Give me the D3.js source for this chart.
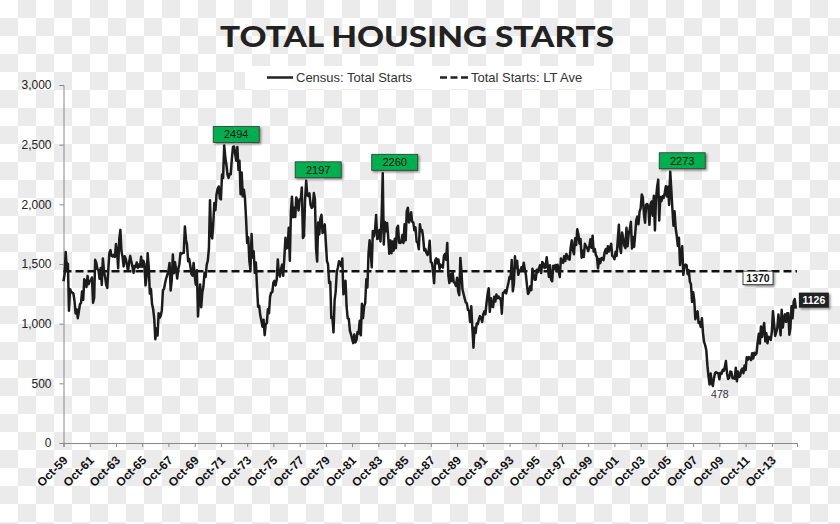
<!DOCTYPE html>
<html><head><meta charset="utf-8">
<script src="https://cdn.jsdelivr.net/npm/d3@7"></script>
<style>html,body{margin:0;padding:0;background:#fff}svg{display:block}</style>
</head><body>
<svg id="chart" width="840" height="524"></svg>
<script>
// ---------------- DATA ----------------
const chartTitle = "TOTAL HOUSING STARTS";
const seriesNames = ["Census: Total Starts", "Total Starts: LT Ave"];
// Monthly total housing starts (thousands, SAAR), Oct-1959 .. Aug-2015
const firstYear = 1959, firstMonth = 9; // October (0-based)
const starts = [
  1355,1416,1601,
  1460,1503,1109,1289,1266,1260,1255,1194,1086,1119,1046,1099,
  1163,1176,1270,1199,1372,1360,1307,1399,1331,1357,1361,1387,
  1175,1216,1535,1510,1459,1447,1376,1467,1324,1547,1442,1394,
  1325,1300,1451,1593,1616,1569,1562,1577,1560,1667,1601,1465,
  1710,1786,1608,1560,1480,1564,1543,1492,1443,1514,1568,1520,
  1480,1427,1483,1476,1512,1468,1496,1477,1560,1476,1528,1501,
  1321,1400,1591,1476,1252,1291,1164,1123,1040,869,960,900,
  1087,1049,1066,1113,1280,1294,1341,1382,1410,1441,1508,1278,
  1362,1580,1423,1515,1453,1378,1459,1498,1592,1587,1591,1593,
  1815,1702,1663,1524,1542,1484,1418,1403,1509,1398,1327,1447,
  1060,1224,1329,1138,1260,1311,1426,1391,1494,1528,1628,2035,
  1741,1715,1836,2011,1951,2083,2130,2150,2050,2042,2249,2221,
  2494,2390,2334,2249,2221,2254,2252,2382,2481,2485,2421,2366,
  2481,2289,2365,2084,2266,2067,2123,2051,1874,1677,1724,1526,
  1451,1752,1555,1607,1426,1513,1316,1142,1150,1070,1026,975,
  1032,904,993,1005,1121,1087,1226,1260,1264,1344,1360,1321,
  1367,1538,1421,1395,1459,1495,1401,1550,1720,1629,1641,1804,
  1527,1943,2063,1892,1971,1893,2058,2020,1949,2042,2042,2142,
  1718,1738,2032,2197,2075,2070,2092,1996,1970,1981,2094,2044,
  1630,1520,1847,1748,1876,1913,1760,1778,1832,1681,1524,1498,
  1341,1350,1047,1051,927,1196,1269,1436,1471,1523,1510,1482,
  1547,1246,1306,1360,1140,1045,1041,940,911,873,837,910,
  843,866,931,917,1025,902,1166,1046,1144,1173,1372,1303,
  1586,1699,1606,1472,1776,1733,1785,1910,1710,1715,1785,1688,
  1897,2260,1663,1851,1774,1843,1732,1586,1698,1590,1689,1612,
  1711,1632,1800,1821,1680,1676,1684,1743,1676,1834,1698,1942,
  1972,1848,1876,1933,1854,1847,1782,1807,1687,1681,1623,1833,
  1774,1784,1726,1614,1628,1594,1575,1605,1695,1515,1511,1448,
  1339,1531,1547,1505,1538,1459,1495,1479,1469,1570,1585,1536,
  1676,1405,1340,1415,1358,1431,1346,1342,1315,1385,1270,1239,
  1551,1437,1289,1248,1212,1177,1171,1115,1110,1014,1145,969,
  798,965,921,1001,996,1036,1063,1049,1015,1079,1103,1079,
  1176,1250,1297,1099,1214,1145,1139,1226,1186,1244,1214,1227,
  1210,1210,1083,1258,1260,1280,1254,1300,1343,1392,1376,1533,
  1272,1337,1564,1465,1526,1409,1439,1450,1474,1450,1511,1455,
  1407,1316,1249,1267,1314,1281,1461,1416,1369,1369,1452,1431,
  1467,1491,1424,1516,1504,1467,1472,1557,1475,1392,1489,1370,
  1355,1486,1457,1492,1442,1494,1437,1390,1546,1520,1510,1566,
  1525,1584,1567,1540,1536,1641,1698,1614,1582,1715,1660,1792,
  1748,1670,1710,1553,1611,1559,1669,1648,1635,1608,1648,1708,
  1636,1737,1604,1626,1575,1559,1463,1541,1507,1549,1551,1532,
  1600,1625,1590,1649,1605,1636,1670,1567,1562,1540,1602,1568,
  1698,1829,1642,1592,1764,1717,1655,1633,1804,1648,1753,1788,
  1853,1629,1726,1643,1751,1867,1897,1833,1939,1967,2083,2057,
  1911,1846,1998,2003,1981,1828,2002,2024,1905,2072,1782,2042,
  2144,2207,1864,2061,2025,2068,2054,2095,2151,2065,2147,1994,
  2273,2119,1969,1821,1942,1802,1737,1650,1720,1491,1570,1649,
  1409,1480,1495,1490,1415,1448,1354,1330,1183,1264,1197,1037,
  1084,1103,1005,1013,973,1046,923,844,820,777,652,560,
  490,582,505,478,540,585,594,586,585,534,588,581,
  614,604,636,687,583,536,546,599,594,543,545,539,
  630,517,600,554,561,608,623,585,650,611,719,697,
  720,708,695,753,708,757,740,754,847,915,833,976,
  888,962,1005,852,919,835,891,883,863,936,1105,1003,
  897,928,963,1077,1000,902,1117,968,1038,1078,1014,1088,
  1087,908,964,1146,1045,1187,1206,1126
];
const ltAverage = [1440];               // dashed long-term average line level
const ltAverageLabel = "1370";
const lastValueLabel = "1126";
const peakMonths = ["1972-01","1978-04","1984-02","2006-01"];
const peakValues = [2494, 2197, 2260, 2273];
const troughMonth = "2009-04";
const troughValue = 478;
const yTicks = [0, 500, 1000, 1500, 2000, 2500, 3000];
const xTickLabels = ["Oct-59","Oct-61","Oct-63","Oct-65","Oct-67","Oct-69","Oct-71","Oct-73","Oct-75",
  "Oct-77","Oct-79","Oct-81","Oct-83","Oct-85","Oct-87","Oct-89","Oct-91","Oct-93","Oct-95","Oct-97",
  "Oct-99","Oct-01","Oct-03","Oct-05","Oct-07","Oct-09","Oct-11","Oct-13"];

// ---------------- CHART ----------------
const svg = d3.select("#chart");
const defs = svg.append("defs");
const pat = defs.append("pattern").attr("id","checker").attr("patternUnits","userSpaceOnUse")
  .attr("width",36).attr("height",36);
pat.append("rect").attr("width",36).attr("height",36).attr("fill","#ffffff");
pat.append("rect").attr("x",18).attr("y",0).attr("width",18).attr("height",18).attr("fill","#ebebeb");
pat.append("rect").attr("x",0).attr("y",18).attr("width",18).attr("height",18).attr("fill","#ebebeb");
const sh = defs.append("filter").attr("id","shadow").attr("x","-20%").attr("y","-30%").attr("width","150%").attr("height","180%");
sh.append("feDropShadow").attr("dx",1.5).attr("dy",1.5).attr("stdDeviation",1).attr("flood-color","#000").attr("flood-opacity",0.45);

svg.append("rect").attr("width",840).attr("height",524).attr("fill","url(#checker)");

const monthDate = k => new Date(firstYear, firstMonth + k, 1);
const parseMonth = d3.timeParse("%Y-%m");
const data = starts.map((v,i) => ({date: monthDate(i), value: v}));

const x = d3.scaleTime()
  .domain([monthDate(0), monthDate(starts.length)])
  .range([63.5, 797]);
const y = d3.scaleLinear().domain([0, 3000]).range([443, 85]);

// title
svg.append("text").attr("x", 417).attr("y", 47).attr("text-anchor","middle")
  .attr("font-family","Lato, 'Open Sans', 'Liberation Sans', Arial, sans-serif")
  .attr("font-weight",900).attr("font-size",27.5).attr("fill","#222")
  .attr("textLength",394).attr("lengthAdjust","spacingAndGlyphs")
  .text(chartTitle);

// legend
const lg = svg.append("g");
lg.append("rect").attr("x",245).attr("y",66).attr("width",365).attr("height",23).attr("fill","#fff");
lg.append("line").attr("x1",267).attr("x2",293).attr("y1",77.5).attr("y2",77.5)
  .attr("stroke","#222").attr("stroke-width",2.5);
lg.append("text").attr("x",296).attr("y",82).attr("font-family","'Liberation Sans', Arial, sans-serif")
  .attr("font-size",13).attr("fill","#333").text(seriesNames[0]);
lg.append("line").attr("x1",440).attr("x2",468).attr("y1",77.5).attr("y2",77.5)
  .attr("stroke","#222").attr("stroke-width",2.5).attr("stroke-dasharray","7,3.5");
lg.append("text").attr("x",471).attr("y",82).attr("font-family","'Liberation Sans', Arial, sans-serif")
  .attr("font-size",13).attr("fill","#333").text(seriesNames[1]);

// y axis
const yAxis = svg.append("g").attr("transform","translate(63.5,0)")
  .call(d3.axisLeft(y).tickValues(yTicks).tickSize(4).tickPadding(8).tickFormat(d3.format(",")));
yAxis.selectAll("path,line").attr("stroke","#888");
yAxis.selectAll("text").attr("font-family","'Liberation Sans', Arial, sans-serif")
  .attr("font-size",12).attr("fill","#222");

// x axis
const tickDates = xTickLabels.map((l,i) => new Date(firstYear + 2*i, firstMonth, 1));
const xAxis = svg.append("g").attr("transform","translate(0,443)")
  .call(d3.axisBottom(x).tickValues(tickDates).tickSize(4).tickFormat((d,i)=>xTickLabels[i]));
xAxis.selectAll("path,line").attr("stroke","#888");
xAxis.selectAll("text")
  .attr("font-family","'Liberation Sans', Arial, sans-serif").attr("font-size",12)
  .attr("font-weight","bold").attr("fill","#111")
  .attr("text-anchor","end").attr("x",0).attr("y",0).attr("dy","0.35em")
  .attr("transform","translate(1.5,15) rotate(-45)");

// LT average dashed line
svg.append("g").selectAll("line").data(ltAverage).join("line")
  .attr("x1", x.range()[0]).attr("x2", x.range()[1])
  .attr("y1", d=>y(d)).attr("y2", d=>y(d))
  .attr("stroke","#111").attr("stroke-width",2.5).attr("stroke-dasharray","8,4");

// main line
svg.append("path").datum(data)
  .attr("fill","none").attr("stroke","#1c1c1c").attr("stroke-width",2.5)
  .attr("stroke-linejoin","round")
  .attr("d", d3.line().x(d=>x(d.date)).y(d=>y(d.value)));

// peak annotations
const peaks = peakMonths.map((m,i)=>({date: parseMonth(m), value: peakValues[i]}));
const pg = svg.append("g").selectAll("g").data(peaks).join("g")
  .attr("transform", d=>`translate(${x(d.date)+12},${y(d.value)-3})`);
pg.append("rect").attr("x",-23).attr("y",-16).attr("width",46).attr("height",16)
  .attr("fill","#00b050").attr("stroke","#333").attr("stroke-width",0.8).attr("filter","url(#shadow)");
pg.append("text").attr("x",0).attr("y",-4).attr("text-anchor","middle")
  .attr("font-family","'Liberation Sans', Arial, sans-serif").attr("font-size",11)
  .attr("fill","#111").text(d=>d.value);

// trough label
const tDate = parseMonth(troughMonth);
svg.append("text").attr("x", x(tDate)+7).attr("y", y(troughValue)+12).attr("text-anchor","middle")
  .attr("font-family","'Liberation Sans', Arial, sans-serif").attr("font-size",10.5)
  .attr("fill","#333").text(troughValue);

// LT average label box
const ltg = svg.append("g").attr("transform", `translate(758,${y(ltAverage[0])})`);
ltg.append("rect").attr("x",-15).attr("y",0).attr("width",30).attr("height",13.5)
  .attr("fill","#fff").attr("stroke","#222").attr("stroke-width",0.8).attr("filter","url(#shadow)");
ltg.append("text").attr("x",0).attr("y",10.5).attr("text-anchor","middle")
  .attr("font-family","'Liberation Sans', Arial, sans-serif").attr("font-size",10.5)
  .attr("font-weight","bold").attr("fill","#111").text(ltAverageLabel);

// last value box
const last = data[data.length-1];
const lvg = svg.append("g").attr("transform", `translate(${x(last.date)+3},${y(last.value)})`);
lvg.append("rect").attr("x",0).attr("y",-16).attr("width",30).attr("height",15)
  .attr("fill","#222").attr("filter","url(#shadow)");
lvg.append("text").attr("x",15).attr("y",-4.5).attr("text-anchor","middle")
  .attr("font-family","'Liberation Sans', Arial, sans-serif").attr("font-size",10.5)
  .attr("font-weight","bold").attr("fill","#fff").text(lastValueLabel);
</script>
</body></html>
